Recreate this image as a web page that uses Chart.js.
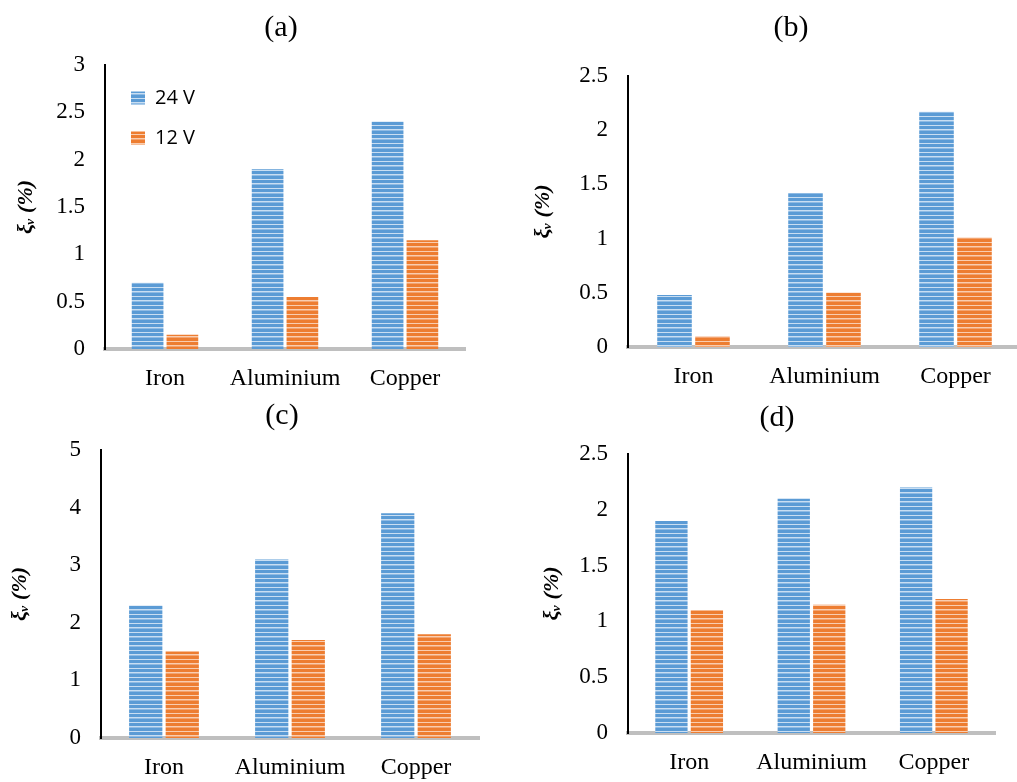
<!DOCTYPE html>
<html>
<head>
<meta charset="utf-8">
<script src="https://cdn.jsdelivr.net/npm/chart.js@4/dist/chart.umd.min.js"></script>
<style>
  html, body { margin: 0; padding: 0; background: #fff; overflow: hidden; }
  body { width: 1017px; height: 782px; position: relative; }
  canvas { position: absolute; }
</style>
</head>
<body>
<canvas id="panelA"></canvas>
<canvas id="panelB"></canvas>
<canvas id="panelC"></canvas>
<canvas id="panelD"></canvas>
<script>
const categories = ['Iron', 'Aluminium', 'Copper'];
const seriesNames = ['24 V', '12 V'];
const panelLabels = ['(a)', '(b)', '(c)', '(d)'];

// xi_v (%) per panel
const high24 = [
  [0.7, 1.9, 2.4],
  [0.48, 1.42, 2.17],
  [2.3, 3.1, 3.9],
  [1.9, 2.1, 2.2]
];
const low12 = [
  [0.15, 0.55, 1.15],
  [0.1, 0.5, 1.01],
  [1.5, 1.7, 1.8],
  [1.1, 1.15, 1.2]
];
const yMaxes = [3, 2.5, 5, 2.5];
const ySteps = [0.5, 0.5, 1, 0.5];

// canvas placement and the fixed sizes of the boxes around each plot
const frames = [
  { id: 'panelA', left: 12, top: 0, width: 538, height: 390, yWidth: 93, rightWidth: 85, xHeight: 41, titlePad: { top: 10, bottom: 19 } },
  { id: 'panelB', left: 529, top: 0, width: 524, height: 390, yWidth: 99, rightWidth: 32, xHeight: 43, titlePad: { top: 10, bottom: 30 } },
  { id: 'panelC', left: 6, top: 390, width: 552, height: 392, yWidth: 95, rightWidth: 79, xHeight: 44, titlePad: { top: 8, bottom: 16 } },
  { id: 'panelD', left: 538, top: 390, width: 478, height: 392, yWidth: 90, rightWidth: 21, xHeight: 49, titlePad: { top: 10, bottom: 18 } }
];

Chart.defaults.font.family = '"Liberation Serif", "Times New Roman", serif';
Chart.defaults.color = '#000';

// the 'chartArea' legend keeps top = 0; move it down into the plot
const legendInPlot = {
  id: 'legendInPlot',
  afterLayout(chart) {
    const lg = chart.legend;
    if (!lg || !lg.options.display) return;
    const h = lg.bottom - lg.top;
    lg.top = chart.chartArea.top + 3;
    lg.bottom = lg.top + h;
    lg.left = chart.chartArea.left + 6;
  }
};

function stripes(ctx, dark, mid, light) {
  const c = document.createElement('canvas');
  c.width = 4;
  c.height = 9;
  const g = c.getContext('2d');
  g.fillStyle = dark;
  g.fillRect(0, 0, 4, 9);
  g.fillStyle = light;
  g.fillRect(0, 3, 4, 1);
  g.fillRect(0, 8, 4, 1);
  g.fillStyle = mid;
  g.fillRect(0, 4, 4, 1);
  return ctx.createPattern(c, 'repeat');
}

frames.forEach((f, i) => {
  const canvas = document.getElementById(f.id);
  canvas.width = f.width;
  canvas.height = f.height;
  canvas.style.left = f.left + 'px';
  canvas.style.top = f.top + 'px';
  const ctx = canvas.getContext('2d');

  const blue = stripes(ctx, '#5b9bd5', '#8fbbe4', '#c9def2');
  const orange = stripes(ctx, '#ed7d31', '#f3a470', '#f9cdb0');

  new Chart(ctx, {
    type: 'bar',
    data: {
      labels: categories,
      datasets: [
        { label: seriesNames[0], data: high24[i], backgroundColor: blue, borderWidth: 0 },
        { label: seriesNames[1], data: low12[i], backgroundColor: orange, borderWidth: 0 }
      ]
    },
    plugins: [legendInPlot],
    options: {
      responsive: false,
      animation: false,
      categoryPercentage: 0.58,
      barPercentage: 0.91,
      layout: { padding: 0 },
      plugins: {
        title: {
          display: true,
          text: panelLabels[i],
          font: { size: 30, weight: 'normal' },
          color: '#000',
          padding: f.titlePad
        },
        legend: {
          display: i === 0,
          position: 'chartArea',
          align: 'start',
          labels: {
            font: { family: '"Open Sans", sans-serif', size: 20 },
            color: '#000',
            boxWidth: 14,
            boxHeight: 13,
            padding: 20
          }
        },
        tooltip: { enabled: false }
      },
      scales: {
        x: {
          grid: { display: false, drawTicks: false },
          border: { display: true, color: '#bfbfbf', width: 4 },
          ticks: { font: { size: 24 }, padding: 15, color: '#000' },
          afterFit(scale) { scale.height = f.xHeight; }
        },
        y: {
          min: 0,
          max: yMaxes[i],
          grid: { display: false, drawTicks: false },
          border: { display: true, color: '#000', width: 2 },
          ticks: {
            stepSize: ySteps[i],
            font: { size: 23 },
            padding: 20,
            color: '#000',
            callback(value) {
              return String(value);
            }
          },
          title: {
            display: true,
            text: 'ξᵥ (%)',
            font: { size: 22, style: 'italic', weight: 'bold' },
            color: '#000',
            padding: { top: 1, bottom: 0 }
          },
          afterFit(scale) { scale.width = f.yWidth; }
        },
        // empty right-hand box so the panel label sits where the original has it
        spacer: {
          type: 'linear',
          position: 'right',
          display: true,
          grid: { display: false, drawTicks: false },
          border: { display: false },
          ticks: { display: false },
          afterFit(scale) { scale.width = f.rightWidth; }
        }
      }
    }
  });
});
</script>
</body>
</html>
